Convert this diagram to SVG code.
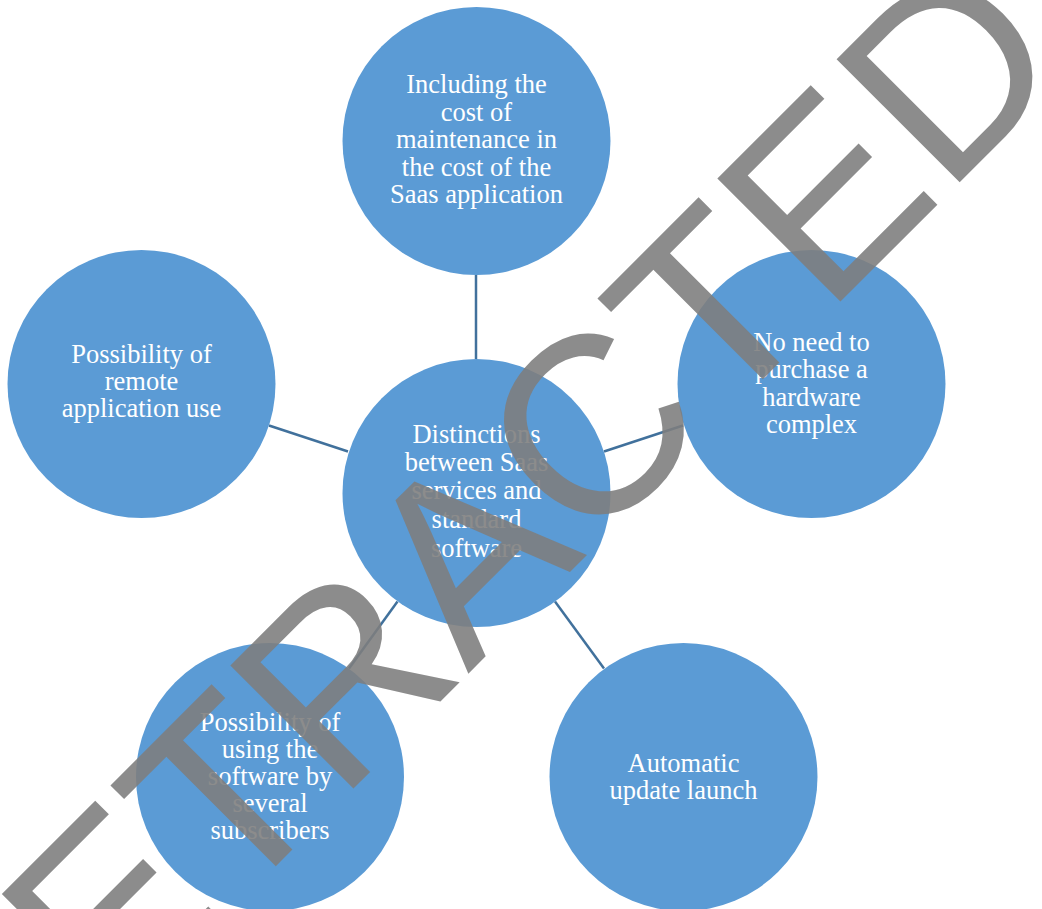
<svg xmlns="http://www.w3.org/2000/svg" width="1042" height="909" viewBox="0 0 1042 909">
<style>
.node{fill:#5B9BD5;}
.lbl{font-family:"Liberation Serif","Times New Roman",serif;font-size:26.5px;fill:#FFFFFF;text-anchor:middle;}
.conn{stroke:#41719C;stroke-width:2.5;fill:none;}
.wm{font-family:"Liberation Sans",Arial,sans-serif;font-size:253px;fill:#7E7E7E;fill-opacity:0.89;}
</style>
<rect width="1042" height="909" fill="#FFFFFF"/>
<g id="connectors">
<line class="conn" x1="476" y1="275" x2="476" y2="359"/>
<line class="conn" x1="269" y1="425.5" x2="348" y2="451.5"/>
<line class="conn" x1="604" y1="451.5" x2="683" y2="425.5"/>
<line class="conn" x1="397.5" y1="601.5" x2="349" y2="668.5"/>
<line class="conn" x1="555" y1="601.5" x2="604" y2="668.5"/>
</g>
<g id="node-center">
<circle class="node" cx="476.5" cy="493" r="134"/>
<text class="lbl" x="476.5" y="443">Distinctions</text>
<text class="lbl" x="476.5" y="471">between Saas</text>
<text class="lbl" x="476.5" y="499">services and</text>
<text class="lbl" x="476.5" y="528">standard</text>
<text class="lbl" x="476.5" y="557">software</text>
</g>
<g id="node-top">
<circle class="node" cx="476.5" cy="141" r="134"/>
<text class="lbl" x="476.5" y="93">Including the</text>
<text class="lbl" x="476.5" y="121">cost of</text>
<text class="lbl" x="476.5" y="148">maintenance in</text>
<text class="lbl" x="476.5" y="176">the cost of the</text>
<text class="lbl" x="476.5" y="203">Saas application</text>
</g>
<g id="node-left">
<circle class="node" cx="141.5" cy="384" r="134"/>
<text class="lbl" x="141.5" y="363">Possibility of</text>
<text class="lbl" x="141.5" y="390">remote</text>
<text class="lbl" x="141.5" y="417">application use</text>
</g>
<g id="node-right">
<circle class="node" cx="811.5" cy="384" r="134"/>
<text class="lbl" x="811.5" y="351">No need to</text>
<text class="lbl" x="811.5" y="378">purchase a</text>
<text class="lbl" x="811.5" y="406">hardware</text>
<text class="lbl" x="811.5" y="433">complex</text>
</g>
<g id="node-bottom-left">
<circle class="node" cx="270" cy="777" r="134"/>
<text class="lbl" x="270" y="731">Possibility of</text>
<text class="lbl" x="270" y="758">using the</text>
<text class="lbl" x="270" y="785">software by</text>
<text class="lbl" x="270" y="812">several</text>
<text class="lbl" x="270" y="839">subscribers</text>
</g>
<g id="node-bottom-right">
<circle class="node" cx="683.5" cy="777" r="134"/>
<text class="lbl" x="683.5" y="772">Automatic</text>
<text class="lbl" x="683.5" y="799">update launch</text>
</g>
<g id="watermark">
<text class="wm" transform="translate(-19,1161) rotate(-45)">RETRACTED</text>
</g>
</svg>
